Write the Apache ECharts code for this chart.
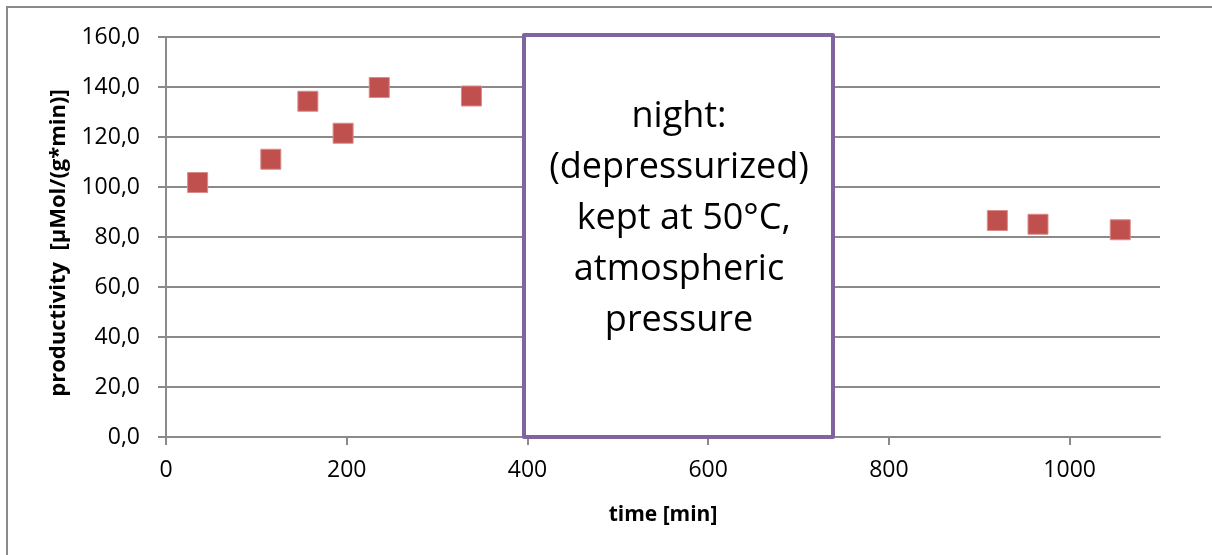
<!DOCTYPE html>
<html>
<head>
<meta charset="utf-8">
<script src="https://cdn.jsdelivr.net/npm/echarts@6/dist/echarts.min.js"></script>
<style>
  html, body { margin: 0; padding: 0; background: #fff; }
  #chart { width: 1212px; height: 555px; }
</style>
</head>
<body>
<div id="chart"></div>
<script>
// Measured productivity over time (minutes since start)
const timeMin = [35, 116, 157, 196, 236, 338, 920, 965, 1056];
const productivity = [101.8, 111.1, 134.3, 121.5, 139.8, 136.4, 86.6, 85.1, 82.9];

// Axis ticks
const xTicks = [0, 200, 400, 600, 800, 1000];
const yTicks = [0, 20, 40, 60, 80, 100, 120, 140, 160];

// Annotation for the overnight pause
const nightNote = ['night:', '(depressurized)', ' kept at 50°C,', 'atmospheric', 'pressure'];

const axisGrey = '#8a8a8a';
const font = '"Open Sans", "DejaVu Sans", sans-serif';

const chart = echarts.init(document.getElementById('chart'));
chart.setOption({
  animation: false,
  backgroundColor: '#fff',
  grid: { left: 166, top: 37, right: 52, bottom: 118, containLabel: false },
  xAxis: {
    type: 'value',
    min: 0,
    max: 1100,
    interval: 200,
    name: 'time [min]',
    nameLocation: 'middle',
    nameGap: 68,
    nameTextStyle: { fontFamily: font, fontWeight: 'bold', fontSize: 21, color: '#000' },
    axisLine: { show: true, lineStyle: { color: axisGrey, width: 2 } },
    axisTick: { show: true, length: 8, customValues: xTicks, lineStyle: { color: axisGrey, width: 2 } },
    axisLabel: {
      customValues: xTicks,
      margin: 22,
      fontFamily: font,
      fontSize: 23,
      color: '#000',
      formatter: v => String(v)
    },
    splitLine: { show: false }
  },
  yAxis: {
    type: 'value',
    min: 0,
    max: 160,
    interval: 20,
    name: 'productivity  [µMol/(g*min)]',
    nameLocation: 'middle',
    nameGap: 96,
    nameRotate: 90,
    nameTextStyle: { fontFamily: font, fontWeight: 'bold', fontSize: 22, color: '#000', padding: [0, 12, 0, 0] },
    axisLine: { show: true, lineStyle: { color: axisGrey, width: 2 } },
    axisTick: { show: true, length: 8, customValues: yTicks, lineStyle: { color: axisGrey, width: 2 } },
    axisLabel: {
      customValues: yTicks,
      margin: 26,
      fontFamily: font,
      fontSize: 23,
      color: '#000',
      formatter: v => v.toFixed(1).replace('.', ',')
    },
    splitLine: { show: true, lineStyle: { color: axisGrey, width: 2 } }
  },
  series: [{
    type: 'scatter',
    data: timeMin.map((t, i) => [t, productivity[i]]),
    symbol: 'rect',
    symbolSize: 20,
    itemStyle: { color: '#C0504D', opacity: 1, borderColor: '#d98c8a', borderWidth: 1 },
    z: 3
  }],
  graphic: [
    {
      type: 'rect',
      shape: { x: 7, y: 7, width: 1300, height: 700 },
      style: { fill: 'none', stroke: axisGrey, lineWidth: 2 },
      silent: true,
      z: 0
    },
    {
      type: 'rect',
      shape: { x: 524, y: 35, width: 309, height: 402 },
      style: { fill: '#fff', stroke: '#8064A2', lineWidth: 4, lineJoin: 'round' },
      z: 10
    },
    {
      type: 'text',
      x: 679,
      y: 219,
      style: {
        text: nightNote.join('\n'),
        fontFamily: font,
        fontSize: 36,
        lineHeight: 51,
        fill: '#000',
        align: 'center',
        verticalAlign: 'middle'
      },
      z: 11
    }
  ]
});
</script>
</body>
</html>
